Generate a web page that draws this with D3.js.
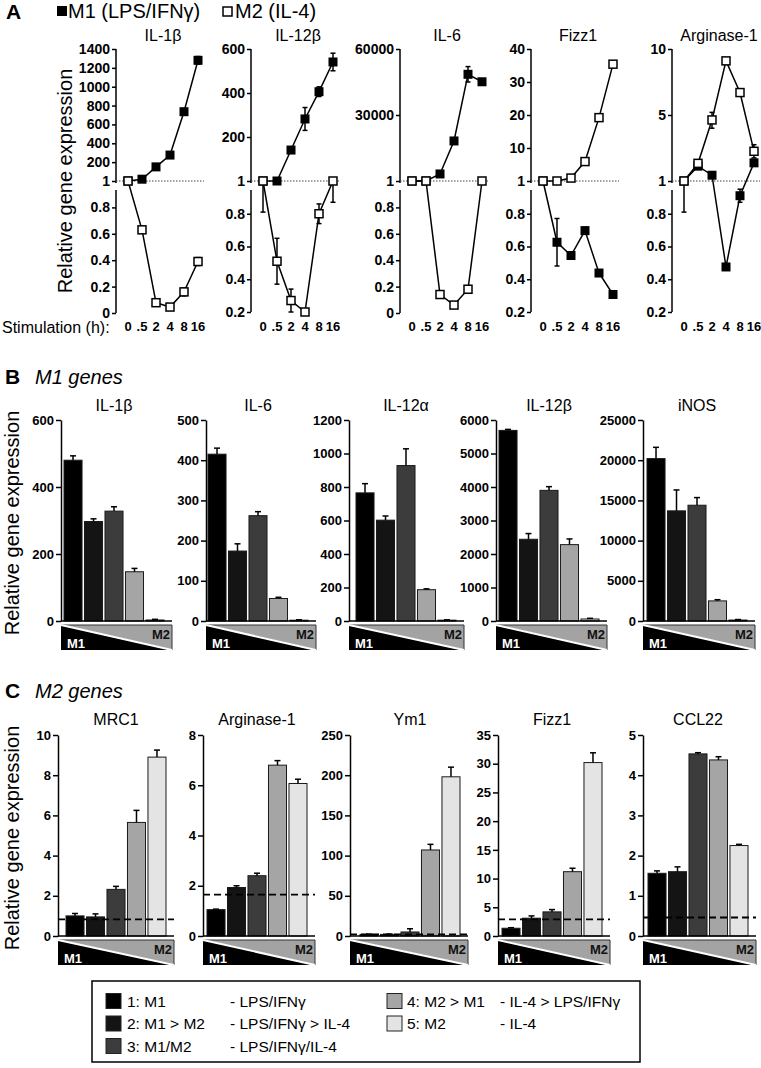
<!DOCTYPE html>
<html><head><meta charset="utf-8">
<script src="https://cdn.jsdelivr.net/npm/d3@7"></script>
<style>
body{margin:0;background:#fff}
svg{display:block}
text{font-family:"Liberation Sans",Arial,Helvetica,sans-serif;fill:#000}
</style>
</head><body>
<svg id="c" width="761" height="1068"></svg>
<script>
// ---------------- DATA ----------------
// Panel A: time course
const timeLabels = ["0", ".5", "2", "4", "8", "16"];
const genesA = ["IL-1β", "IL-12β", "IL-6", "Fizz1", "Arginase-1"];
const upperTicksA = [[200,400,600,800,1000,1200,1400],[200,400,600],[30000,60000],[10,20,30,40],[5,10]];
const lowerTicksA = [[0,0.2,0.4,0.6,0.8],[0.2,0.4,0.6,0.8],[0,0.2,0.4,0.6,0.8],[0.2,0.4,0.6,0.8],[0.2,0.4,0.6,0.8]];
const m1A = [
  [1, 20, 150, 275, 735, 1280],
  [1, 1, 141, 282, 406, 541],
  [1, 1, 3200, 18200, 48500, 45100],
  [1, 0.626, 0.545, 0.697, 0.438, 0.307],
  [1, 1.9, 1.35, 0.475, 0.91, 2.1]
];
const m1ErrA = [
  [0, 0, 10, 15, 25, 40],
  [0, 0, 10, 52, 22, 40],
  [0, 0, 500, 1000, 3500, 1000],
  [0, 0.145, 0.01, 0.02, 0.01, 0.01],
  [0, 0, 0.05, 0.01, 0.04, 0.1]
];
const m2A = [
  [1, 0.63, 0.078, 0.045, 0.16, 0.39],
  [1, 0.51, 0.27, 0.2, 0.8, 1],
  [1, 1, 0.14, 0.06, 0.18, 1],
  [1, 1, 1.8, 6.3, 19.2, 35.4],
  [1, 2.07, 4.7, 9.1, 6.7, 2.8]
];
const m2ErrA = [
  [0, 0.02, 0.02, 0.02, 0.03, 0.03],
  [0.19, 0.14, 0.07, 0, 0.06, 0.13],
  [0, 0, 0.02, 0.01, 0.02, 0],
  [0, 0, 0.3, 0.5, 0.8, 0.8],
  [0.19, 0.15, 0.5, 0.2, 0.2, 0.4]
];

// Panel B: M1 genes
const genesB = ["IL-1β", "IL-6", "IL-12α", "IL-12β", "iNOS"];
const maxB = [600, 500, 1200, 6000, 25000];
const stepB = [200, 100, 200, 1000, 5000];
const valsB = [
  [480, 297, 328, 147, 3],
  [415, 174, 262, 56, 2],
  [765, 602, 928, 187, 5],
  [5690, 2440, 3900, 2280, 60],
  [20200, 13700, 14400, 2500, 120]
];
const errB = [
  [13, 8, 13, 10, 2],
  [15, 18, 10, 3, 1],
  [55, 25, 100, 5, 2],
  [30, 170, 110, 170, 20],
  [1400, 2600, 950, 150, 60]
];

// Panel C: M2 genes
const genesC = ["MRC1", "Arginase-1", "Ym1", "Fizz1", "CCL22"];
const maxC = [10, 8, 250, 35, 5];
const stepC = [2, 2, 50, 5, 1];
const valsC = [
  [1.0, 0.95, 2.32, 5.65, 8.9],
  [1.05, 1.93, 2.4, 6.8, 6.07],
  [2, 2, 5, 107, 198],
  [1.35, 3.1, 4.2, 11.2, 30.2],
  [1.56, 1.6, 4.53, 4.38, 2.25]
];
const errC = [
  [0.12, 0.15, 0.15, 0.6, 0.35],
  [0.02, 0.07, 0.1, 0.18, 0.17],
  [0.5, 0.5, 4, 7, 12],
  [0.1, 0.4, 0.4, 0.6, 1.7],
  [0.06, 0.12, 0.03, 0.08, 0.03]
];
const baselineC = [0.83, 1.65, 2, 2.9, 0.46];

// Legend
const groupLabels = ["1: M1", "2: M1 > M2", "3: M1/M2", "4: M2 > M1", "5: M2"];
const stimLabels = ["- LPS/IFNγ", "- LPS/IFNγ > IL-4", "- LPS/IFNγ/IL-4", "- IL-4 > LPS/IFNγ", "- IL-4"];
const groupColors = ["#000000", "#141414", "#3c3c3c", "#a5a5a5", "#e4e4e4"];

// ---------------- DRAW ----------------
const svg = d3.select("#c");

// Panel A header
svg.append("text").attr("x", 6).attr("y", 19).attr("font-size", 21).attr("font-weight", "bold").text("A");
svg.append("rect").attr("x", 57).attr("y", 6).attr("width", 10).attr("height", 10).attr("fill", "#000");
svg.append("text").attr("x", 68).attr("y", 18).attr("font-size", 20).text("M1 (LPS/IFNγ)");
svg.append("rect").attr("x", 223).attr("y", 7).attr("width", 9).attr("height", 9).attr("fill", "#fff").attr("stroke", "#000").attr("stroke-width", 1.5);
svg.append("text").attr("x", 235).attr("y", 18).attr("font-size", 20).text("M2 (IL-4)");

const aFirstX = [128, 263, 412, 543, 684];
const A_TOP = 49, A_ONE = 181;

function styleTicks(sel, fs) {
  sel.selectAll("text").attr("font-size", fs).attr("font-weight", "bold")
     .attr("font-family", '"Liberation Sans",Arial,sans-serif').attr("fill", "#000");
  sel.selectAll("line").attr("stroke", "#000").attr("stroke-width", 1.5);
}

genesA.forEach((gene, i) => {
  const g = svg.append("g");
  const x = d3.scalePoint().domain(timeLabels).range([aFirstX[i], aFirstX[i] + 70]);
  const axX = aFirstX[i] - 12;
  const ut = upperTicksA[i];
  const max = ut[ut.length - 1];
  const lin = d3.scaleLinear().domain([0, max]).range([A_ONE, A_TOP]);
  const upper = d3.scaleLinear().domain([1, ut[0], max]).range([A_ONE, lin(ut[0]), A_TOP]);
  const lo = lowerTicksA[i][0];
  const loBottom = lo === 0 ? 313 : 312;
  const lower = d3.scaleLinear().domain([lo, 1]).range([loBottom, A_ONE]);
  const y = v => v >= 1 ? upper(v) : lower(Math.max(v, lo));

  const ua = g.append("g").attr("transform", `translate(${axX},0)`)
    .call(d3.axisLeft(upper).tickValues([1, ...ut]).tickSize(4).tickPadding(2).tickFormat(d => d));
  ua.select(".domain").remove();
  styleTicks(ua, 14);
  g.append("line").attr("x1", axX).attr("x2", axX).attr("y1", A_TOP).attr("y2", 183).attr("stroke", "#000").attr("stroke-width", 1.5);
  const la = g.append("g").attr("transform", `translate(${axX},0)`)
    .call(d3.axisLeft(lower).tickValues(lowerTicksA[i]).tickSize(4).tickPadding(2).tickFormat(d => d === 0 ? "0" : d3.format(".1f")(d)));
  la.select(".domain").remove();
  styleTicks(la, 14);
  g.append("line").attr("x1", axX).attr("x2", axX).attr("y1", 190).attr("y2", loBottom).attr("stroke", "#000").attr("stroke-width", 1.5);

  g.append("line").attr("x1", axX).attr("x2", aFirstX[i] + 76).attr("y1", A_ONE).attr("y2", A_ONE)
    .attr("stroke", "#444").attr("stroke-width", 1.2).attr("stroke-dasharray", "1.5,1.5");

  g.append("text").attr("x", aFirstX[i] + 35).attr("y", 41).attr("text-anchor", "middle").attr("font-size", 16).text(gene);

  timeLabels.forEach(t => {
    g.append("text").attr("x", x(t)).attr("y", 331).attr("text-anchor", "middle")
      .attr("font-size", 13).attr("font-weight", "bold").text(t);
  });

  const line = d3.line().x((d, j) => x(timeLabels[j])).y(d => y(d));
  [m1A[i], m2A[i]].forEach(series => {
    g.append("path").attr("d", line(series)).attr("fill", "none").attr("stroke", "#000").attr("stroke-width", 1.5);
  });
  [[m1A[i], m1ErrA[i]], [m2A[i], m2ErrA[i]]].forEach(([vals, errs]) => {
    vals.forEach((v, j) => {
      const e = errs[j];
      if (!e) return;
      const cx = x(timeLabels[j]);
      const y1 = y(v - e), y2 = y(v + e);
      g.append("line").attr("x1", cx).attr("x2", cx).attr("y1", y1).attr("y2", y2).attr("stroke", "#000").attr("stroke-width", 1.5);
      [y1, y2].forEach(yy => g.append("line").attr("x1", cx - 2.5).attr("x2", cx + 2.5).attr("y1", yy).attr("y2", yy).attr("stroke", "#000").attr("stroke-width", 1.5));
    });
  });
  m1A[i].forEach((v, j) => {
    g.append("rect").attr("x", x(timeLabels[j]) - 4.5).attr("y", y(v) - 4.5).attr("width", 9).attr("height", 9).attr("fill", "#000");
  });
  m2A[i].forEach((v, j) => {
    g.append("rect").attr("x", x(timeLabels[j]) - 4).attr("y", y(v) - 4).attr("width", 8).attr("height", 8)
      .attr("fill", "#fff").attr("stroke", "#000").attr("stroke-width", 1.5);
  });
});

svg.append("text").attr("x", 2).attr("y", 333).attr("font-size", 16).text("Stimulation (h):");

function yLabel(x, y) {
  svg.append("text").attr("transform", `translate(${x},${y}) rotate(-90)`).attr("text-anchor", "middle")
    .attr("font-size", 20).text("Relative gene expression");
}
yLabel(72, 181);
yLabel(19, 523);
yLabel(19, 838);

function barPanel(opts) {
  const { genes, vals, errs, maxes, steps, axisXs, bar1Xs, top, bottom, titleY, baseline } = opts;
  genes.forEach((gene, i) => {
    const g = svg.append("g");
    const x = d3.scaleBand().domain(d3.range(5)).range([bar1Xs[i], bar1Xs[i] + 100]).paddingInner(0.12).paddingOuter(0);
    const y = d3.scaleLinear().domain([0, maxes[i]]).range([bottom, top]);
    const axX = axisXs[i], axEnd = bar1Xs[i] + 108;

    g.append("text").attr("x", bar1Xs[i] + 50).attr("y", titleY).attr("text-anchor", "middle").attr("font-size", 16).text(gene);

    vals[i].forEach((v, j) => {
      g.append("rect").attr("x", x(j)).attr("y", y(v)).attr("width", x.bandwidth()).attr("height", bottom - y(v))
        .attr("fill", groupColors[j]).attr("stroke", "#1a1a1a").attr("stroke-width", 1);
      const e = errs[i][j];
      const cx = x(j) + x.bandwidth() / 2;
      g.append("line").attr("x1", cx).attr("x2", cx).attr("y1", y(v)).attr("y2", y(v + e)).attr("stroke", "#000").attr("stroke-width", 1.5);
      g.append("line").attr("x1", cx - 3).attr("x2", cx + 3).attr("y1", y(v + e)).attr("y2", y(v + e)).attr("stroke", "#000").attr("stroke-width", 1.5);
    });

    if (baseline) {
      g.append("line").attr("x1", axX).attr("x2", axEnd).attr("y1", y(baseline[i])).attr("y2", y(baseline[i]))
        .attr("stroke", "#000").attr("stroke-width", 1.8).attr("stroke-dasharray", "7,4");
    }

    const ax = g.append("g").attr("transform", `translate(${axX},0)`)
      .call(d3.axisLeft(y).tickValues(d3.range(0, maxes[i] + steps[i] / 2, steps[i])).tickSize(5).tickSizeOuter(0).tickPadding(2).tickFormat(d => d));
    ax.select(".domain").attr("stroke", "#000").attr("stroke-width", 1.5);
    styleTicks(ax, 13);
    g.append("line").attr("x1", axX).attr("x2", axEnd).attr("y1", bottom).attr("y2", bottom).attr("stroke", "#000").attr("stroke-width", 1.5);

    const ty = bottom + 4, th = 25;
    g.append("path").attr("d", `M${axX},${ty} L${axEnd},${ty} L${axEnd},${ty + th} Z`).attr("fill", "#a3a3a3").attr("stroke", "#333").attr("stroke-width", 1);
    g.append("path").attr("d", `M${axX},${ty} L${axX},${ty + th} L${axEnd},${ty + th} Z`).attr("fill", "#000");
    g.append("line").attr("x1", axX).attr("y1", ty).attr("x2", axEnd).attr("y2", ty + th).attr("stroke", "#fff").attr("stroke-width", 2);
    g.append("text").attr("x", axX + 6).attr("y", ty + th - 2).attr("font-size", 13).attr("font-weight", "bold").style("fill", "#fff").text("M1");
    g.append("text").attr("x", axEnd - 2).attr("y", ty + 14).attr("text-anchor", "end").attr("font-size", 13).attr("font-weight", "bold").style("fill", "#111").text("M2");
  });
}

svg.append("text").attr("x", 5).attr("y", 384).attr("font-size", 21).attr("font-weight", "bold").text("B");
svg.append("text").attr("x", 35).attr("y", 384).attr("font-size", 20).attr("font-style", "italic").text("M1 genes");
barPanel({ genes: genesB, vals: valsB, errs: errB, maxes: maxB, steps: stepB,
  axisXs: [61, 206, 349, 496, 643], bar1Xs: [64, 208, 356, 499, 647], top: 420, bottom: 621, titleY: 411 });

svg.append("text").attr("x", 5).attr("y", 698).attr("font-size", 21).attr("font-weight", "bold").text("C");
svg.append("text").attr("x", 35).attr("y", 698).attr("font-size", 20).attr("font-style", "italic").text("M2 genes");
barPanel({ genes: genesC, vals: valsC, errs: errC, maxes: maxC, steps: stepC,
  axisXs: [58, 203, 350, 498, 643], bar1Xs: [66, 207, 360, 502, 648], top: 735, bottom: 936, titleY: 725, baseline: baselineC });

// Legend box
svg.append("rect").attr("x", 92).attr("y", 981).attr("width", 548).attr("height", 81).attr("fill", "none").attr("stroke", "#000").attr("stroke-width", 1.5);
const legPos = [
  { sx: 106, tx: 127, stx: 230, y: 1001 },
  { sx: 106, tx: 127, stx: 230, y: 1023.5 },
  { sx: 106, tx: 127, stx: 230, y: 1046 },
  { sx: 387, tx: 407, stx: 500, y: 1001 },
  { sx: 387, tx: 407, stx: 500, y: 1023.5 }
];
groupLabels.forEach((lab, k) => {
  const p = legPos[k];
  svg.append("rect").attr("x", p.sx).attr("y", p.y - 7.5).attr("width", 15).attr("height", 15).attr("fill", groupColors[k]).attr("stroke", "#222").attr("stroke-width", 1);
  svg.append("text").attr("x", p.tx).attr("y", p.y + 5.5).attr("font-size", 15.5).text(lab);
  svg.append("text").attr("x", p.stx).attr("y", p.y + 5.5).attr("font-size", 15.5).text(stimLabels[k]);
});
</script>
</body></html>
